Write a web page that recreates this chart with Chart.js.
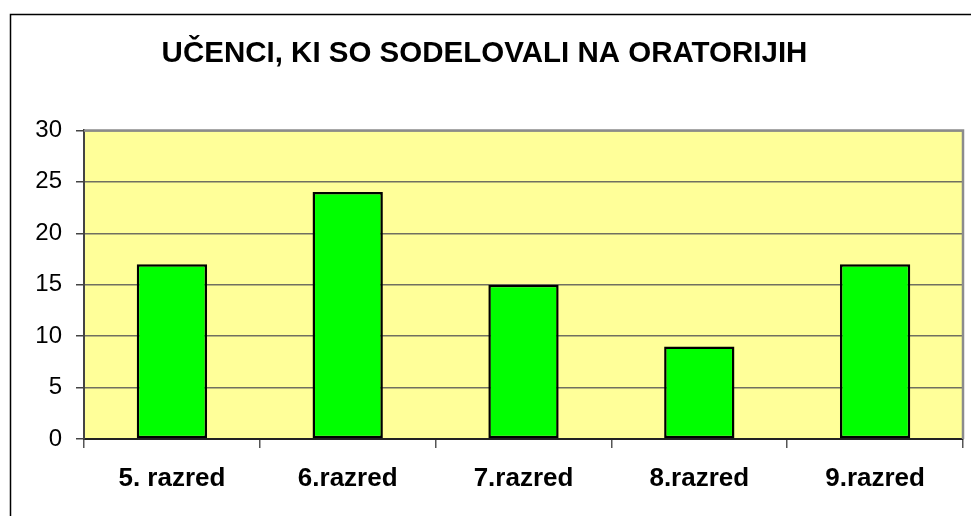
<!DOCTYPE html>
<html>
<head>
<meta charset="utf-8">
<script src="https://cdn.jsdelivr.net/npm/chart.js@4"></script>
<style>
html,body{margin:0;padding:0;background:#fff;}
#wrap{width:971px;height:516px;position:relative;}
</style>
</head>
<body>
<div id="wrap"><canvas id="c" width="971" height="516"></canvas></div>
<script>
const titleText = 'UČENCI, KI SO SODELOVALI NA ORATORIJIH';
const categories = ['5. razred', '6.razred', '7.razred', '8.razred', '9.razred'];
const values = [17, 24, 15, 9, 17];
const yTicks = [0, 5, 10, 15, 20, 25, 30];

const framePlugin = {
  id: 'frame',
  beforeDraw(chart) {
    const ctx = chart.ctx, a = chart.chartArea;
    ctx.save();
    ctx.fillStyle = '#ffffff';
    ctx.fillRect(0, 0, chart.width, chart.height);
    ctx.fillStyle = '#FFFF99';
    ctx.fillRect(a.left, a.top, a.right - a.left, a.bottom - a.top);
    ctx.strokeStyle = '#000';
    ctx.lineWidth = 1.5;
    ctx.beginPath();
    ctx.moveTo(10.5, chart.height + 2);
    ctx.lineTo(10.5, 14.5);
    ctx.lineTo(chart.width + 2, 14.5);
    ctx.stroke();
    ctx.restore();
  },
  afterDatasetsDraw(chart) {
    const ctx = chart.ctx, a = chart.chartArea;
    ctx.save();
    ctx.strokeStyle = '#8c8c8c';
    ctx.lineWidth = 2.5;
    ctx.beginPath();
    ctx.moveTo(a.left, a.top);
    ctx.lineTo(a.right, a.top);
    ctx.lineTo(a.right, a.bottom);
    ctx.stroke();
    ctx.restore();
  }
};

new Chart(document.getElementById('c'), {
  type: 'bar',
  data: {
    labels: categories,
    datasets: [{
      data: values,
      backgroundColor: '#00FF00',
      borderColor: '#000000',
      borderWidth: 2.5,
      borderSkipped: false,
      barPercentage: 0.4,
      categoryPercentage: 1.0
    }]
  },
  options: {
    responsive: false,
    animation: false,
    devicePixelRatio: 1,
    layout: { padding: { left: 6, right: 8, top: 0, bottom: 0 } },
    plugins: {
      legend: { display: false },
      tooltip: { enabled: false },
      title: {
        display: true,
        text: titleText,
        color: '#000',
        font: { family: 'Arial, "Liberation Sans", sans-serif', size: 29.5, weight: 'bold' },
        padding: { top: 36, bottom: 59 }
      }
    },
    scales: {
      x: {
        grid: { display: true, drawOnChartArea: false, offset: true, tickLength: 9, color: '#555', lineWidth: 1.5 },
        border: { display: true, color: '#222', width: 2 },
        ticks: {
          color: '#000',
          padding: 15,
          font: { family: 'Arial, "Liberation Sans", sans-serif', size: 26, weight: 'bold' }
        },
        afterFit(scale) { scale.height = 77; }
      },
      y: {
        min: 0, max: 30,
        afterBuildTicks(scale) { scale.ticks = yTicks.map(v => ({ value: v })); },
        grid: { display: true, drawOnChartArea: true, tickLength: 8, color: '#707060', lineWidth: 1.5, tickColor: '#444' },
        border: { display: true, color: '#444', width: 2 },
        ticks: {
          color: '#000',
          padding: 14,
          font: { family: 'Arial, "Liberation Sans", sans-serif', size: 24 }
        },
        afterFit(scale) { scale.width = 78; }
      }
    }
  },
  plugins: [framePlugin]
});
</script>
</body>
</html>
